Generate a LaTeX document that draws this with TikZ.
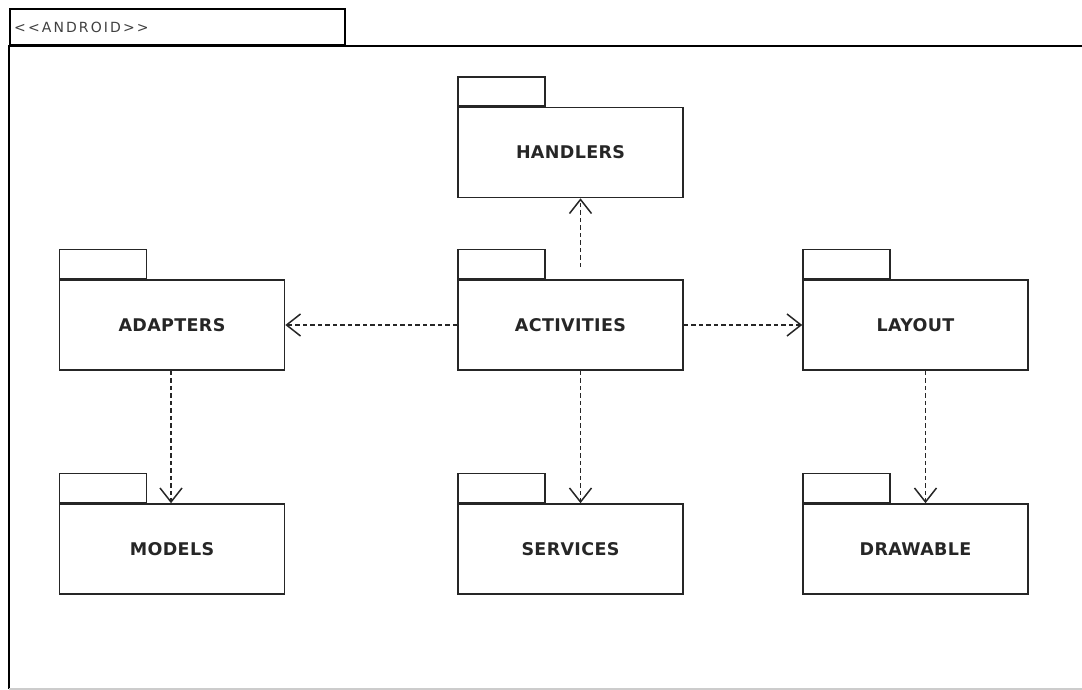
\documentclass[tikz,border=0pt]{standalone}
\usepackage{fontspec}
\setmainfont{DejaVu Sans}
\usetikzlibrary{arrows.meta,calc}
\begin{document}
\begin{tikzpicture}[x=1pt,y=-1pt,
  pkgbody/.style={draw=black!85, line width=1.6pt, minimum width=225pt,
    minimum height=90pt, inner sep=0pt, text=black!85,
    font=\fontsize{17.5}{20}\selectfont\bfseries\addfontfeatures{LetterSpace=2}},
  pkgtab/.style={draw=black!85, line width=1.6pt, minimum width=87pt,
    minimum height=29pt, inner sep=0pt, anchor=south west},
  dep/.style={draw=black!85, line width=1.8pt, dash pattern=on 4.5pt off 3pt,
    -{Straight Barb[length=14pt,width=22pt,line width=1.5pt]}}]
\useasboundingbox (0,0) rectangle (1082,690);
\clip (0,0) rectangle (1082,690);

% outer package frame with its name tab
\node[draw=black, line width=1.6pt, anchor=south west, minimum width=335pt,
  minimum height=36pt, inner sep=0pt] (frametab) at (9,46) {};
\node[anchor=west, inner sep=0pt, text=black!75,
  font=\fontsize{14}{16}\selectfont\addfontfeatures{LetterSpace=15}]
  (framename) at ($(frametab.west)+(5,0)$) {{<}{<}ANDROID{>}{>}};
\draw[black, line width=2pt] (1090,46) -- (9,46) -- (9,689);
\draw[black!20, line width=1.2pt] (9,689) -- (1090,689);

% packages
\node[pkgbody] (handlers) at (570.5,152.5) {HANDLERS};
\node[pkgbody] (adapters) at (172,325) {ADAPTERS};
\node[pkgbody] (activities) at (570.5,325) {ACTIVITIES};
\node[pkgbody] (layout) at (915.5,325) {LAYOUT};
\node[pkgbody] (models) at (172,549) {MODELS};
\node[pkgbody] (services) at (570.5,549) {SERVICES};
\node[pkgbody] (drawable) at (915.5,549) {DRAWABLE};

\foreach \p in {handlers,adapters,activities,layout,models,services,drawable}
  \node[pkgtab] (\p-tab) at (\p.north west) {};

% dependencies
\coordinate (actup) at ($(activities.north)+(10,-12)$);
\draw[dep] (actup) -- (actup |- handlers.south);
\draw[dep] (activities.west) -- (adapters.east);
\draw[dep] (activities.east) -- (layout.west);
\draw[dep] ($(activities.south)+(10,0)$) -- ($(services.north)+(10,0)$);
\draw[dep] ($(adapters.south)+(-1,0)$) -- ($(models.north)+(-1,0)$);
\draw[dep] ($(layout.south)+(10,0)$) -- ($(drawable.north)+(10,0)$);
\end{tikzpicture}
\end{document}
